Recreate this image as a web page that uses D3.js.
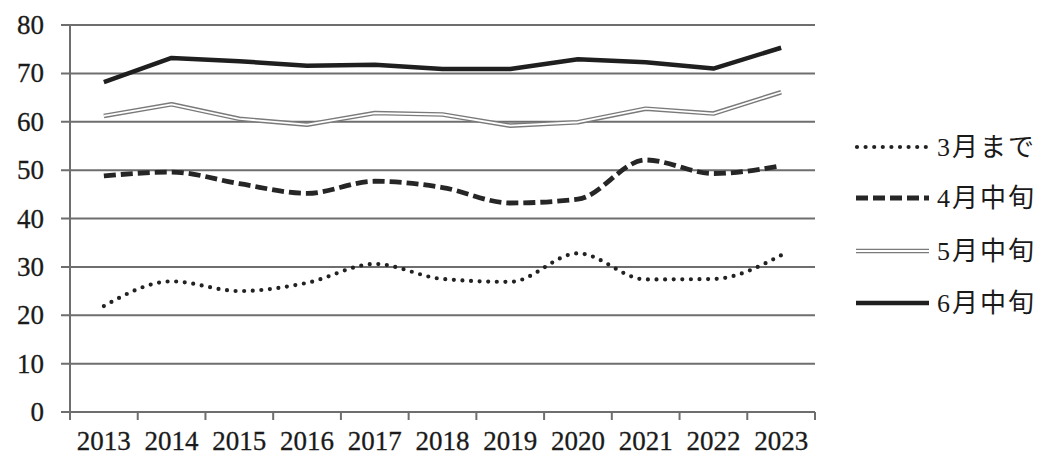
<!DOCTYPE html>
<html>
<head>
<meta charset="utf-8">
<script src="https://cdn.jsdelivr.net/npm/d3@7"></script>
<style>
  html, body { margin: 0; padding: 0; background: #fff; }
  svg { display: block; }
  .num { font-family: "Liberation Serif", "DejaVu Serif", serif; }
  .jp { font-family: "Liberation Serif", "Noto Sans CJK JP", serif; }
</style>
</head>
<body>
<svg id="chart" width="1045" height="456"></svg>
<script>
// Years along the x axis
const years = ["2013","2014","2015","2016","2017","2018","2019","2020","2021","2022","2023"];
// Series values
const march  = [21.9, 27.0, 25.0, 26.7, 30.6, 27.5, 26.9, 32.8, 27.4, 27.5, 32.4];
const april  = [48.8, 49.6, 47.2, 45.2, 47.7, 46.4, 43.2, 44.0, 52.1, 49.3, 50.9];
const may    = [61.2, 63.6, 60.6, 59.4, 61.8, 61.5, 59.2, 59.9, 62.7, 61.7, 66.1];
const june   = [68.2, 73.2, 72.5, 71.6, 71.8, 70.9, 70.9, 72.9, 72.3, 71.0, 75.3];
// Legend labels
const seriesNames = ["3月まで", "4月中旬", "5月中旬", "6月中旬"];
// Y tick values
const yTicks = [0, 10, 20, 30, 40, 50, 60, 70, 80];

const svg = d3.select("#chart");
const plotLeft = 70, plotRight = 815, plotTop = 25, plotBottom = 412;

const x = d3.scaleBand().domain(years).range([plotLeft, plotRight]).padding(0);
const y = d3.scaleLinear().domain([0, 80]).range([plotBottom, plotTop]);
const cx = d => x(d) + x.bandwidth() / 2;

// Horizontal gridlines with short left ticks
svg.append("g").selectAll("line").data(yTicks).join("line")
  .attr("x1", plotLeft - 9).attr("x2", plotRight)
  .attr("y1", d => y(d)).attr("y2", d => y(d))
  .attr("stroke", "#6e6e6e").attr("stroke-width", 2);

// Y axis line
svg.append("line")
  .attr("x1", plotLeft).attr("x2", plotLeft).attr("y1", plotTop).attr("y2", plotBottom + 8)
  .attr("stroke", "#6e6e6e").attr("stroke-width", 2);

// X axis ticks at category boundaries
const bounds = years.map(d => x(d)).concat([plotRight]);
svg.append("g").selectAll("line").data(bounds).join("line")
  .attr("x1", d => d).attr("x2", d => d).attr("y1", plotBottom).attr("y2", plotBottom + 8)
  .attr("stroke", "#6e6e6e").attr("stroke-width", 2);

// Y tick labels
svg.append("g").selectAll("text").data(yTicks).join("text")
  .attr("class", "num")
  .attr("x", 44).attr("y", d => y(d) + 9)
  .attr("text-anchor", "end")
  .attr("font-size", 27).attr("fill", "#1a1a1a")
  .attr("stroke", "#1a1a1a").attr("stroke-width", 0.3)
  .text(d => d);

// X tick labels
svg.append("g").selectAll("text").data(years).join("text")
  .attr("class", "num")
  .attr("x", d => cx(d)).attr("y", 449.5)
  .attr("text-anchor", "middle")
  .attr("font-size", 27).attr("fill", "#1a1a1a")
  .attr("stroke", "#1a1a1a").attr("stroke-width", 0.3)
  .text(d => d);

const straight = d3.line().x((d, i) => cx(years[i])).y(d => y(d));
const smooth = d3.line().x((d, i) => cx(years[i])).y(d => y(d)).curve(d3.curveMonotoneX);

// Line styles for each series
const styles = [
  { data: march, gen: smooth, layers: [{ stroke: "#222", width: 4.2, dash: "0,8.6", cap: "round" }] },
  { data: april, gen: smooth, layers: [{ stroke: "#262626", width: 4.8, dash: "12,5", cap: "butt" }] },
  { data: may, gen: straight, layers: [{ stroke: "#7a7a7a", width: 4.6 }, { stroke: "#ffffff", width: 1.8 }] },
  { data: june, gen: straight, layers: [{ stroke: "#1f1f1f", width: 4.5 }] }
];

styles.forEach(s => {
  s.layers.forEach(l => {
    svg.append("path")
      .attr("d", s.gen(s.data))
      .attr("fill", "none")
      .attr("stroke", l.stroke)
      .attr("stroke-width", l.width)
      .attr("stroke-dasharray", l.dash || null)
      .attr("stroke-linecap", l.cap || "butt")
      .attr("stroke-linejoin", "round");
  });
});

// Legend
const legendY = [147, 198, 251, 303];
styles.forEach((s, i) => {
  const g = svg.append("g");
  s.layers.forEach(l => {
    g.append("line")
      .attr("x1", i === 0 ? 857 : 856).attr("x2", 929)
      .attr("y1", legendY[i]).attr("y2", legendY[i])
      .attr("stroke", l.stroke)
      .attr("stroke-width", l.width)
      .attr("stroke-dasharray", l.dash || null)
      .attr("stroke-linecap", l.cap || "butt");
  });
  g.append("text")
    .attr("class", "jp")
    .attr("x", 937).attr("y", legendY[i] + 9)
    .attr("font-size", 26).attr("letter-spacing", 2).attr("fill", "#1a1a1a")
    .text(seriesNames[i]);
});
</script>
</body>
</html>
